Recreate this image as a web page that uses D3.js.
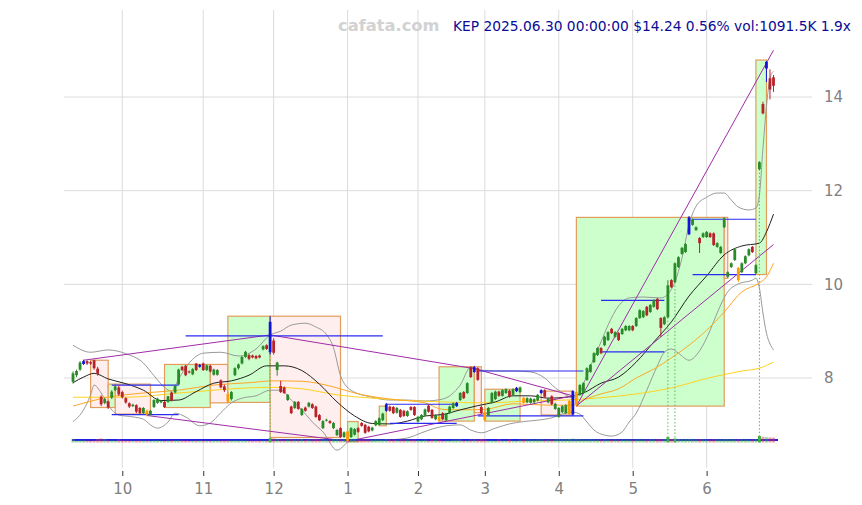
<!DOCTYPE html>
<html><head><meta charset="utf-8">
<script src="https://cdn.jsdelivr.net/npm/d3@7"></script>
<style>body{margin:0;background:#fff}svg{display:block}</style>
</head><body>
<svg id="chart" width="862" height="505"></svg>
<script>
// KEP daily candles, 2024-09-11 .. 2025-06-30 (one row per month)
const open = [
 7.92,8.06,8.18,8.30,8.36,8.34,8.38,8.20,7.60,7.47,7.50,7.58,7.74,7.80,
 7.70,7.57,7.46,7.40,7.42,7.36,7.25,7.30,7.22,7.38,7.47,7.48,7.49,7.49,7.69,7.69,7.86,8.24,8.26,8.14,8.08,8.31,8.24,
 8.31,8.17,8.26,8.07,8.07,7.95,7.82,7.66,7.55,8.06,8.21,8.31,8.45,8.49,8.48,8.47,8.48,8.61,8.70,8.55,
 8.80,8.17,7.83,7.80,7.53,7.39,7.36,7.49,7.21,7.37,7.39,7.44,7.39,7.21,6.93,7.09,7.08,6.93,6.78,6.93,6.74,
 6.86,6.74,6.79,6.93,7.04,7.00,6.96,6.88,6.99,7.00,7.10,7.30,7.39,7.38,7.26,7.32,7.30,7.19,7.38,7.38,
 7.07,7.12,7.20,7.41,7.32,7.12,7.17,7.25,7.10,7.25,7.36,7.40,7.53,7.70,7.68,8.23,8.13,8.21,7.38,
 7.27,7.21,7.47,7.55,7.71,7.62,7.68,7.73,7.64,7.72,7.70,7.58,7.48,7.47,7.48,7.52,7.68,7.74,7.48,7.61,7.34,
 7.17,7.27,7.25,7.23,7.22,7.44,7.64,7.68,7.96,8.13,8.34,8.49,8.64,8.70,8.81,9.05,8.88,8.96,8.94,9.02,9.02,
 9.11,9.11,9.28,9.30,9.52,9.41,9.52,9.69,9.28,9.15,9.30,10.09,10.05,10.37,10.65,10.69,11.07,11.27,11.16,10.99,11.01,
 11.01,11.09,11.09,10.80,10.67,11.22,10.16,10.37,10.52,10.35,10.26,10.45,10.62,10.80,10.24,12.46,13.85,14.61,14.40,14.42];
const high = [
 8.14,8.18,8.36,8.39,8.38,8.36,8.39,8.24,7.63,7.58,7.52,7.74,7.84,7.84,
 7.73,7.59,7.48,7.45,7.44,7.38,7.38,7.33,7.32,7.55,7.58,7.53,7.51,7.62,7.71,7.85,8.20,8.26,8.28,8.16,8.21,8.32,8.30,
 8.33,8.29,8.28,8.20,8.19,7.97,7.86,7.70,7.72,8.23,8.31,8.47,8.58,8.52,8.50,8.49,8.50,8.70,8.72,9.32,
 8.85,8.35,7.94,7.82,7.66,7.41,7.51,7.51,7.36,7.39,7.49,7.46,7.41,7.23,7.10,7.13,7.10,7.06,6.91,6.95,6.86,
 6.90,6.95,6.93,6.95,7.06,7.02,6.98,6.96,7.10,7.16,7.26,7.47,7.41,7.40,7.38,7.34,7.32,7.31,7.40,7.40,
 7.19,7.23,7.35,7.43,7.34,7.23,7.19,7.27,7.25,7.41,7.48,7.49,7.70,7.72,7.91,8.25,8.26,8.23,7.40,
 7.30,7.38,7.70,7.73,7.73,7.76,7.78,7.75,7.78,7.81,7.82,7.60,7.59,7.58,7.57,7.66,7.76,7.76,7.58,7.63,7.47,
 7.38,7.42,7.44,7.53,7.74,7.72,7.87,7.91,8.23,8.30,8.55,8.66,8.66,8.90,9.00,9.07,9.00,8.98,9.07,9.13,9.13,
 9.13,9.30,9.47,9.45,9.54,9.58,9.68,9.71,9.30,9.32,10.09,10.11,10.47,10.60,10.80,10.88,11.46,11.41,11.24,11.01,11.11,
 11.14,11.11,11.11,10.90,10.82,11.43,10.28,10.47,10.77,10.37,10.47,10.62,10.77,10.82,10.43,12.63,13.90,14.77,14.59,14.47];
const low = [
 7.88,8.02,8.15,8.28,8.28,8.28,8.18,8.05,7.40,7.44,7.34,7.55,7.72,7.62,
 7.56,7.45,7.36,7.38,7.25,7.23,7.22,7.18,7.20,7.36,7.45,7.46,7.36,7.47,7.50,7.67,7.85,8.15,8.04,8.10,8.06,8.15,8.22,
 8.15,8.15,8.12,8.05,8.05,7.78,7.70,7.46,7.52,8.04,8.18,8.29,8.43,8.38,8.42,8.40,8.42,8.59,8.60,8.50,
 8.50,8.05,7.68,7.66,7.51,7.23,7.34,7.32,7.19,7.28,7.37,7.34,7.15,7.08,6.91,7.07,7.02,6.91,6.76,6.72,6.72,
 6.62,6.72,6.77,6.83,6.96,6.81,6.84,6.86,6.97,6.98,7.08,7.28,7.28,7.23,7.24,7.15,7.17,7.17,7.30,7.19,
 7.05,7.10,7.18,7.26,7.13,7.10,7.07,7.10,7.08,7.23,7.34,7.38,7.51,7.55,7.66,8.00,8.11,7.94,7.23,
 7.08,7.19,7.45,7.53,7.60,7.60,7.66,7.58,7.62,7.70,7.68,7.45,7.46,7.45,7.46,7.50,7.66,7.58,7.46,7.42,7.32,
 7.15,7.25,7.23,7.21,7.20,7.40,7.62,7.66,7.94,8.11,8.32,8.47,8.51,8.68,8.79,8.94,8.86,8.79,8.92,9.00,9.00,
 9.00,9.09,9.26,9.28,9.32,9.39,9.50,9.45,8.88,9.13,9.28,9.92,10.03,10.35,10.63,10.67,11.05,11.25,11.14,10.67,10.99,
 10.99,10.99,10.82,10.78,10.65,11.20,10.14,10.35,10.50,10.05,10.24,10.43,10.60,10.67,10.22,12.44,13.63,14.32,13.95,14.11];
const close = [
 8.10,8.15,8.33,8.36,8.31,8.31,8.21,8.09,7.44,7.55,7.37,7.71,7.82,7.65,
 7.59,7.48,7.39,7.43,7.28,7.25,7.36,7.22,7.30,7.53,7.56,7.51,7.38,7.61,7.52,7.83,8.18,8.17,8.06,8.12,8.19,8.17,8.28,
 8.17,8.27,8.14,8.18,8.17,7.80,7.74,7.50,7.70,8.21,8.29,8.45,8.56,8.41,8.44,8.42,8.44,8.68,8.62,9.20,
 8.54,8.33,7.70,7.68,7.64,7.25,7.49,7.34,7.34,7.30,7.47,7.36,7.17,7.10,7.08,7.11,7.04,7.04,6.89,6.74,6.84,
 6.66,6.93,6.91,6.85,6.98,6.83,6.86,6.94,7.08,7.14,7.24,7.44,7.30,7.25,7.36,7.17,7.19,7.29,7.32,7.21,
 7.17,7.21,7.33,7.28,7.15,7.21,7.09,7.12,7.23,7.39,7.46,7.47,7.68,7.57,7.89,8.02,8.23,7.96,7.25,
 7.10,7.36,7.68,7.71,7.62,7.74,7.76,7.60,7.76,7.79,7.80,7.47,7.57,7.56,7.55,7.64,7.74,7.60,7.56,7.44,7.45,
 7.36,7.40,7.42,7.51,7.72,7.70,7.85,7.89,8.21,8.28,8.53,8.64,8.53,8.88,8.98,8.96,8.98,8.81,9.05,9.11,9.11,
 9.02,9.28,9.45,9.43,9.34,9.56,9.66,9.47,9.07,9.30,9.98,9.94,10.45,10.58,10.78,10.86,11.43,11.39,11.22,10.88,11.09,
 11.12,11.01,10.84,10.88,10.80,11.41,10.26,10.45,10.75,10.09,10.45,10.60,10.75,10.69,10.41,12.61,13.65,14.75,14.16,14.24];
// daily volume, thousands of shares
const volume = [
 820,420,450,480,430,400,460,780,900,760,500,450,420,700,
 480,450,420,400,430,460,420,440,410,450,470,430,420,460,480,500,520,470,440,410,430,450,470,
 450,430,420,440,460,480,470,500,450,520,480,460,440,430,420,410,430,450,460,980,
 880,820,760,700,720,780,690,740,800,650,700,760,820,700,740,680,720,760,800,840,780,
 900,760,700,650,720,740,680,640,700,660,620,760,700,680,640,720,700,660,640,700,
 520,480,640,460,720,680,700,460,440,450,640,660,700,460,480,720,700,680,780,
 720,460,440,430,700,460,440,680,460,440,680,700,720,680,640,700,720,680,700,740,760,
 780,720,760,800,900,820,760,700,680,720,700,680,720,740,700,680,720,700,680,660,700,
 680,700,720,680,700,720,740,760,800,760,1250,800,900,780,760,740,820,760,740,800,720,
 700,680,720,740,700,760,780,720,700,760,720,700,680,720,760,1500,1300,1200,1150,1091.5];

// first trading day of each month (index into the daily arrays) and its label
const monthTicks = [14, 37, 57, 78, 98, 117, 138, 159, 180];
const monthLabels = ["10", "11", "12", "1", "2", "3", "4", "5", "6"];
const priceTicks = [8, 10, 12, 14];

// swing highs (blue candles) and swing lows (orange candles)
const pivotHighs = [3, 36, 56, 89, 109, 114, 126, 133, 142, 175, 197];
const pivotLows = [21, 44, 78, 104, 117, 128, 141, 143, 189];
// days flagged for heavy volume
const volumeSpikeDays = [56, 169, 171, 195];

// indicator lines: [day index, price]
const sma20 = [[0,7.90],[3,8.02],[6,8.10],[10,7.98],[15,7.88],[20,7.74],[25,7.52],[30,7.53],[35,7.71],[40,7.89],[45,7.94],[50,8.06],[55,8.26],[60,8.26],[65,8.16],[70,7.87],[75,7.49],[80,7.19],[85,7.03],[90,7.02],[95,7.08],[100,7.19],[105,7.22],[110,7.32],[115,7.41],[120,7.49],[125,7.62],[130,7.62],[135,7.57],[140,7.59],[145,7.68],[150,7.89],[155,8.02],[160,8.34],[165,8.77],[170,9.20],[175,9.75],[180,10.18],[185,10.63],[190,10.82],[195,10.88],[197,11.12],[199,11.50]];
const bbUpper = [[0,8.70],[5,8.55],[10,8.60],[15,8.52],[20,8.32],[23,8.05],[26,7.80],[28,7.72],[30,7.98],[33,8.32],[37,8.53],[42,8.55],[47,8.47],[52,8.62],[56,8.92],[59,9.00],[62,9.13],[66,9.17],[69,9.09],[72,8.93],[74,8.65],[76,8.05],[79,7.74],[85,7.59],[90,7.53],[95,7.53],[100,7.51],[105,7.55],[110,7.85],[113,8.23],[116,8.17],[120,8.15],[125,8.15],[130,8.13],[134,8.00],[137,7.79],[140,7.64],[142,7.57],[144,7.70],[146,8.06],[148,8.43],[150,8.77],[152,9.13],[155,9.54],[158,9.71],[162,9.73],[167,9.71],[169,9.79],[171,10.05],[173,10.56],[175,11.27],[177,11.67],[180,11.86],[183,11.95],[185,11.95],[187,11.80],[189,11.65],[192,11.59],[194,11.63],[195,11.91],[196,12.90],[197,13.80],[198,14.40],[199,14.55]];
const bbLower = [[0,7.07],[3,7.32],[5,7.64],[6,7.85],[8,7.68],[10,7.42],[13,7.21],[17,7.17],[20,7.12],[22,7.00],[24,6.93],[27,7.06],[29,7.25],[32,7.17],[36,6.98],[39,7.04],[42,7.26],[45,7.47],[48,7.57],[52,7.62],[56,7.74],[59,7.74],[62,7.53],[65,7.32],[68,7.06],[71,6.85],[75,6.46],[79,6.66],[85,6.66],[90,6.68],[95,6.72],[99,6.83],[102,6.91],[106,6.98],[110,7.00],[113,6.89],[116,6.83],[120,6.93],[124,7.02],[128,7.07],[132,7.10],[136,7.15],[139,7.23],[142,7.27],[144,7.23],[146,7.06],[148,6.89],[151,6.78],[153,6.76],[156,6.85],[158,7.06],[160,7.25],[163,7.74],[166,8.26],[168,8.55],[170,8.62],[172,8.53],[175,8.38],[178,8.58],[181,9.02],[183,9.39],[186,9.84],[189,10.01],[193,10.09],[194,10.13],[195,9.92],[196,9.39],[197,8.96],[198,8.73],[199,8.60]];
const sma50 = [[0,7.40],[10,7.59],[20,7.68],[30,7.74],[40,7.85],[50,7.90],[57,7.94],[65,7.93],[70,7.88],[75,7.79],[80,7.68],[90,7.55],[100,7.47],[105,7.33],[110,7.32],[117,7.33],[125,7.45],[135,7.42],[142,7.42],[145,7.53],[150,7.66],[155,7.77],[160,8.00],[165,8.19],[170,8.43],[175,8.70],[180,9.02],[185,9.41],[190,9.84],[195,10.03],[197,10.16],[199,10.45]];
const sma200 = [[0,7.59],[15,7.59],[30,7.68],[40,7.74],[50,7.79],[57,7.80],[65,7.77],[75,7.64],[85,7.57],[95,7.52],[105,7.49],[117,7.47],[130,7.51],[140,7.53],[150,7.58],[160,7.66],[170,7.79],[180,7.99],[190,8.15],[195,8.21],[199,8.34]];

// trading ranges: [first day, last day, low, high, rising?]
const boxes = [
 [5,10,7.37,8.38,0],[10,12,7.37,7.87,1],[12,22,7.23,7.87,0],[26,39,7.37,8.29,1],
 [39,44,7.47,8.29,0],[44,56,7.48,9.32,1],[56,76,6.73,9.32,0],[78,81,6.64,7.07,1],
 [87,89,6.98,7.40,1],[104,114,7.08,8.24,1],[114,116,7.26,8.24,0],[117,127,7.08,7.76,1],
 [133,142,7.21,7.72,0],[143,185,7.40,11.43,1],[185,186,10.13,11.43,0],[194,197,10.21,14.79,1]];
// trend lines: [day0, price0, day1, price1]
const trendLines = [
 [3,8.38,56,8.92],[56,8.92,114,8.20],[114,8.20,142,7.62],
 [21,7.20,78,6.65],[78,6.65,142,7.62],
 [143,7.40,199,10.85],[143,7.40,199,15.00]];
// support / resistance levels: [day0, day1, price]
const levels = [
 [32,88,8.90],[11,30,7.22],[11,30,7.85],[89,109,7.44],[90,109,7.03],
 [115,145,8.15],[115,145,7.19],[150,168,9.66],[150,168,8.56],[176,194,11.39],[176,194,10.21]];

const svg = d3.select("#chart");
const x = d3.scaleLinear().domain([0, 199]).range([73, 773.5]);
const y = d3.scaleLinear().domain([6.1, 15.85]).range([467, 10.4]);
const yVol = d3.scaleLinear().domain([0, 2500]).range([442.5, 431.5]);
const FONT = "DejaVu Sans, sans-serif";

// grid
const grid = svg.append("g").attr("stroke", "#dcdcdc").attr("stroke-width", 1);
grid.selectAll("line.v").data(monthTicks).join("line").attr("class", "v")
  .attr("x1", d => x(d)).attr("x2", d => x(d)).attr("y1", 10).attr("y2", 468);
grid.selectAll("line.h").data(priceTicks).join("line").attr("class", "h")
  .attr("x1", 64).attr("x2", 812).attr("y1", d => y(d)).attr("y2", d => y(d));

// trading range boxes
svg.append("g").selectAll("rect").data(boxes).join("rect")
  .attr("x", d => x(d[0])).attr("y", d => y(d[3]))
  .attr("width", d => x(d[1]) - x(d[0])).attr("height", d => y(d[2]) - y(d[3]))
  .attr("fill", d => d[4] ? "#ccffcc" : "#ffeeee")
  .attr("stroke", "#e29d5c").attr("stroke-width", 1.2);

// indicator curves
const curve = d3.line().x(d => x(d[0])).y(d => y(d[1])).curve(d3.curveMonotoneX);
const ind = svg.append("g").attr("fill", "none");
ind.append("path").datum(bbUpper).attr("d", curve).attr("stroke", "#999").attr("stroke-width", 1);
ind.append("path").datum(bbLower).attr("d", curve).attr("stroke", "#999").attr("stroke-width", 1);
ind.append("path").datum(sma200).attr("d", curve).attr("stroke", "#ffd21f").attr("stroke-width", 1);
ind.append("path").datum(sma50).attr("d", curve).attr("stroke", "#ffa726").attr("stroke-width", 1);
ind.append("path").datum(sma20).attr("d", curve).attr("stroke", "#222").attr("stroke-width", 1);

// trend lines
svg.append("g").selectAll("line").data(trendLines).join("line")
  .attr("x1", d => x(d[0])).attr("y1", d => y(d[1]))
  .attr("x2", d => x(d[2])).attr("y2", d => y(d[3]))
  .attr("stroke", "#a02ca8").attr("stroke-width", 1);

// support / resistance levels
svg.append("g").selectAll("line").data(levels).join("line")
  .attr("x1", d => x(d[0])).attr("x2", d => x(d[1]))
  .attr("y1", d => y(d[2])).attr("y2", d => y(d[2]))
  .attr("stroke", "#2b2bf0").attr("stroke-width", 1.2);

// volume average baseline, then volume bars over it
const days = d3.range(close.length);
svg.append("line").attr("x1", 72).attr("x2", 778).attr("y1", 440).attr("y2", 440)
  .attr("stroke", "#1f1fe8").attr("stroke-width", 2);
svg.append("g").selectAll("rect").data(days).join("rect")
  .attr("x", i => x(i) - 1.5).attr("width", 3)
  .attr("y", i => yVol(volume[i])).attr("height", i => yVol(0) - yVol(volume[i]))
  .attr("fill", i => close[i] >= open[i] ? "#3aa83a" : "#d04050")
  .attr("opacity", i => volumeSpikeDays.includes(i) ? 0.95 : 0.5);

// heavy-volume markers
svg.append("g").selectAll("line").data(volumeSpikeDays).join("line")
  .attr("x1", d => x(d)).attr("x2", d => x(d))
  .attr("y1", d => y(Math.min(open[d], close[d]))).attr("y2", yVol(0))
  .attr("stroke", "#5cb85c").attr("stroke-width", 1).attr("stroke-dasharray", "1.5,2");

// candles
const colorOf = i => pivotHighs.includes(i) ? "#1414d8"
  : pivotLows.includes(i) ? "#ff9a00"
  : close[i] >= open[i] ? "#2a8a2a" : "#b8232a";
const candles = svg.append("g").selectAll("g").data(days).join("g");
candles.append("line")
  .attr("x1", i => x(i)).attr("x2", i => x(i))
  .attr("y1", i => y(high[i])).attr("y2", i => y(low[i]))
  .attr("stroke", colorOf).attr("stroke-width", 1);
candles.append("rect")
  .attr("x", i => x(i) - 1.4).attr("width", 2.8)
  .attr("y", i => y(Math.max(open[i], close[i])))
  .attr("height", i => Math.max(1, Math.abs(y(open[i]) - y(close[i]))))
  .attr("fill", colorOf);

// axes
svg.append("g").attr("transform", "translate(0,471)")
  .call(d3.axisBottom(x).tickValues(monthTicks).tickFormat((d, i) => monthLabels[i]).tickSize(5).tickPadding(7))
  .call(g => g.select(".domain").remove())
  .call(g => g.selectAll("line").attr("stroke", "#333"))
  .call(g => g.selectAll("text").attr("fill", "#808080"))
  .attr("font-family", FONT).attr("font-size", 15);
svg.append("g").attr("transform", "translate(812,0)")
  .call(d3.axisRight(y).tickValues(priceTicks).tickSize(0).tickPadding(12).tickFormat(d3.format("d")))
  .call(g => g.select(".domain").remove())
  .call(g => g.selectAll("text").attr("fill", "#808080"))
  .attr("font-family", FONT).attr("font-size", 15);

// header
svg.append("text").attr("x", 338).attr("y", 31).text("cafata.com")
  .attr("font-family", FONT).attr("font-weight", "bold").attr("font-size", 16.3).attr("fill", "#d2d2d2");
svg.append("text").attr("x", 453).attr("y", 30.7)
  .text("KEP 2025.06.30 00:00:00 $14.24 0.56% vol:1091.5K 1.9x")
  .attr("font-family", FONT).attr("font-size", 13.8).attr("fill", "#0b0b96");
</script>
</body></html>
